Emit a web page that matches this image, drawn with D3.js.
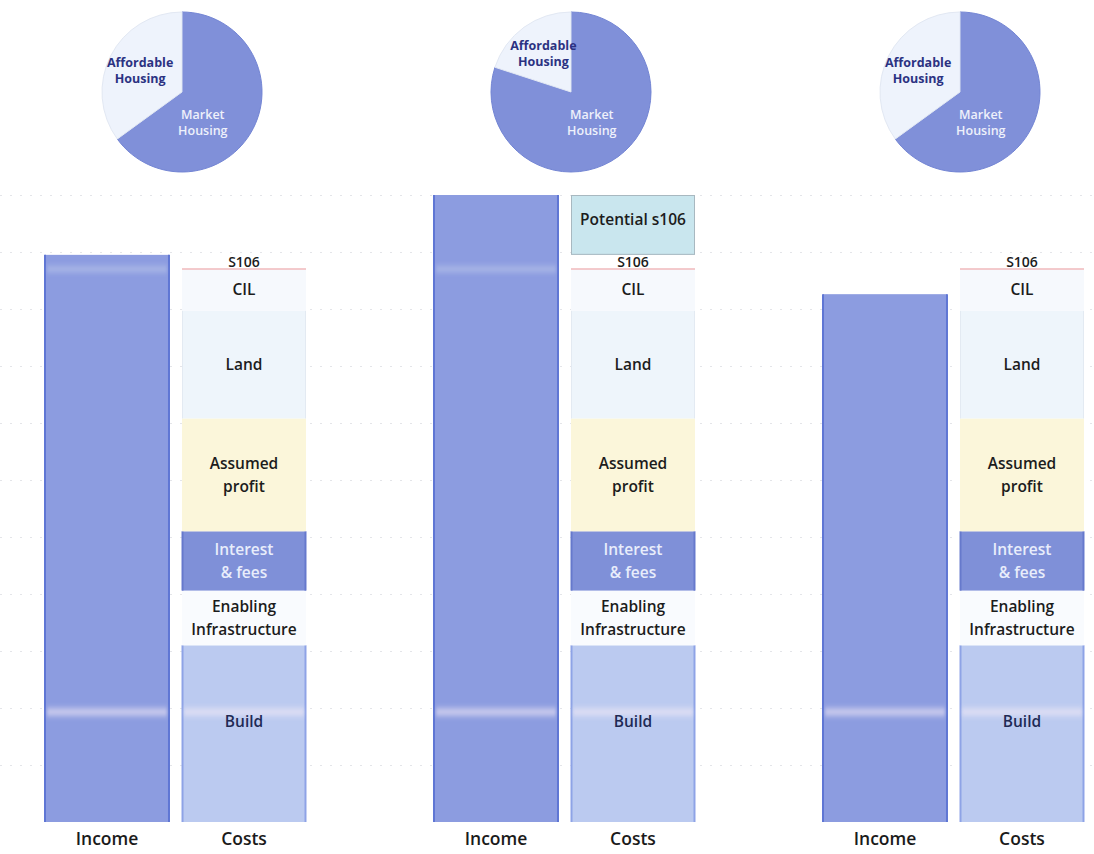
<!DOCTYPE html>
<html>
<head>
<meta charset="utf-8">
<script src="https://cdn.jsdelivr.net/npm/d3@7"></script>
<style>
  body { margin: 0; background: #fff; }
  text { font-family: "Open Sans", "Noto Sans", sans-serif; }
</style>
</head>
<body>
<div id="chart"></div>
<script>
// Chart values
const scenarios = ["Scenario 1", "Scenario 2", "Scenario 3"];
const pieCategories = ["Market Housing", "Affordable Housing"];
const marketShare = [65, 80, 65];
const affordableShare = [35, 20, 35];
const incomeValues = [99.5, 110, 92.6];
const costCategories = ["Build", "Enabling Infrastructure", "Interest & fees", "Assumed profit", "Land", "CIL", "S106", "Potential s106"];
const costLabels = [["Build"], ["Enabling", "Infrastructure"], ["Interest", "& fees"], ["Assumed", "profit"], ["Land"], ["CIL"], ["S106"], ["Potential s106"]];
const costValues = [
  [31, 9.6, 10.4, 19.8, 18.9, 7.3, 2.5, 0],
  [31, 9.6, 10.4, 19.8, 18.9, 7.3, 2.5, 10.5],
  [31, 9.6, 10.4, 19.8, 18.9, 7.3, 2.5, 0]
];
const barNames = ["Income", "Costs"];
const gridTicks = d3.range(10, 111, 10);

// styles per cost category
const costFill = {
  "Build": "#bbcaf0",
  "Enabling Infrastructure": "#f9fbfe",
  "Interest & fees": "#7f90d8",
  "Assumed profit": "#fbf6da",
  "Land": "#eef5fb",
  "CIL": "#f6f9fd",
  "S106": "#ffffff",
  "Potential s106": "#c9e6ee"
};
const costEdge = {
  "Build": "#8ea3e6",
  "Enabling Infrastructure": "none",
  "Interest & fees": "#6679cc",
  "Assumed profit": "none",
  "Land": "#e3eaf2",
  "CIL": "none",
  "S106": "none",
  "Potential s106": "#a8b8c0"
};
const costText = {
  "Interest & fees": "#e8edfb",
  "Build": "#1f2a55"
};

const width = 1094, height = 854;

const svg = d3.select("#chart").append("svg")
  .attr("width", width)
  .attr("height", height);

const defs = svg.append("defs");
defs.append("filter")
  .attr("id", "soft")
  .attr("x", "-10%").attr("y", "-200%")
  .attr("width", "120%").attr("height", "500%")
  .append("feGaussianBlur")
  .attr("stdDeviation", "1.5 3");

const yScale = d3.scaleLinear().domain([0, 110]).range([822, 195]);

const panelX = d3.scaleBand()
  .domain(scenarios)
  .range([45, 1083])
  .paddingInner(0.3316);

const barX = d3.scaleBand()
  .domain(barNames)
  .range([0, 261])
  .paddingInner(0.095);

// faint dotted gridlines
svg.append("g")
  .selectAll("line")
  .data(gridTicks)
  .enter()
  .append("line")
  .attr("x1", 0)
  .attr("x2", width)
  .attr("y1", d => yScale(d) + 0.5)
  .attr("y2", d => yScale(d) + 0.5)
  .attr("stroke", "#e4e5e9")
  .attr("stroke-width", 1)
  .attr("stroke-dasharray", "2,8");

const pie = d3.pie().sort(null).value(d => d.value);
const radius = 80;
const arc = d3.arc().innerRadius(0).outerRadius(radius);
const labelArc = d3.arc().innerRadius(47).outerRadius(47);

scenarios.forEach((s, i) => {
  const g = svg.append("g")
    .attr("transform", "translate(" + panelX(s) + ",0)");
  const barLayer = g.append("g");
  const sheenLayer = g.append("g");
  const textLayer = g.append("g");

  // pie on top
  const pieData = [
    { name: pieCategories[0], value: marketShare[i] },
    { name: pieCategories[1], value: affordableShare[i] }
  ];
  const pg = g.append("g")
    .attr("transform", "translate(" + (panelX.bandwidth() / 2 + 7) + ",92)");
  const arcs = pie(pieData);
  pg.selectAll("path")
    .data(arcs)
    .enter()
    .append("path")
    .attr("d", arc)
    .attr("fill", d => d.data.name === "Market Housing" ? "#8090d9" : "#eef3fc")
    .attr("stroke", d => d.data.name === "Market Housing" ? "#7385d4" : "#e2e8f3")
    .attr("stroke-width", 1);

  arcs.forEach(a => {
    const lines = a.data.name.split(" ");
    let cx, cy;
    if (a.data.name === "Affordable Housing") {
      [cx, cy] = labelArc.centroid(a);
    } else {
      cx = radius * 0.26;
      cy = radius * 0.39;
    }
    const t = pg.append("text")
      .attr("text-anchor", "middle")
      .attr("font-size", 12.5)
      .attr("font-weight", a.data.name === "Affordable Housing" ? 700 : 600)
      .attr("fill", a.data.name === "Affordable Housing" ? "#2b3282" : "#eef1fb");
    lines.forEach((ln, k) => {
      t.append("tspan")
        .attr("x", cx)
        .attr("y", cy + (k - (lines.length - 1) / 2) * 16 + 4)
        .text(ln);
    });
  });

  // income bar
  const ix = barX("Income");
  barLayer.append("rect")
    .attr("x", ix)
    .attr("y", yScale(incomeValues[i]))
    .attr("width", barX.bandwidth())
    .attr("height", yScale(0) - yScale(incomeValues[i]))
    .attr("fill", "#8c9ce0");
  [ix, ix + barX.bandwidth()].forEach(x => {
    barLayer.append("line")
      .attr("x1", x).attr("x2", x)
      .attr("y1", yScale(incomeValues[i]))
      .attr("y2", yScale(0))
      .attr("stroke", "#5f76d4")
      .attr("stroke-width", 2);
  });

  // stacked costs
  const cx = barX("Costs");
  let base = 0;
  costCategories.forEach((c, k) => {
    const v = costValues[i][k];
    if (!v) return;
    const y0 = yScale(base), y1 = yScale(base + v);
    base += v;
    barLayer.append("rect")
      .attr("x", cx)
      .attr("y", y1)
      .attr("width", barX.bandwidth())
      .attr("height", y0 - y1)
      .attr("fill", costFill[c]);
    if (costEdge[c] !== "none") {
      if (c === "Potential s106") {
        barLayer.append("rect")
          .attr("x", cx + 0.5).attr("y", y1 + 0.5)
          .attr("width", barX.bandwidth() - 1)
          .attr("height", y0 - y1 - 1)
          .attr("fill", "none")
          .attr("stroke", costEdge[c]);
      } else {
        [cx + 0.5, cx + barX.bandwidth() - 0.5].forEach(x => {
          barLayer.append("line")
            .attr("x1", x).attr("x2", x)
            .attr("y1", y1).attr("y2", y0)
            .attr("stroke", costEdge[c])
            .attr("stroke-width", c === "Build" || c === "Interest & fees" ? 2 : 1);
        });
      }
    }
    if (c === "S106") {
      barLayer.append("line")
        .attr("x1", cx).attr("x2", cx + barX.bandwidth())
        .attr("y1", y0).attr("y2", y0)
        .attr("stroke", "#f1b9bb")
        .attr("stroke-width", 1.5);
    }

    // label
    const lines = costLabels[k];
    let midY = (y0 + y1) / 2;
    if (c === "Build") midY = y1 + (y0 - y1) * 0.43;
    if (c === "Potential s106") midY -= 5;
    const t = textLayer.append("text")
      .attr("text-anchor", "middle")
      .attr("font-size", c === "S106" ? 14 : 15.5)
      .attr("font-weight", 600)
      .attr("fill", costText[c] || "#1c1c1c");
    lines.forEach((ln, j) => {
      t.append("tspan")
        .attr("x", cx + barX.bandwidth() / 2)
        .attr("y", midY + (j - (lines.length - 1) / 2) * 23 + 5.5)
        .text(ln);
    });
  });

  // light sheen bands seen on the print
  const sheen = yScale(19.3);
  [ix, cx].forEach(x => {
    sheenLayer.append("rect")
      .attr("x", x + 2)
      .attr("y", sheen - 3)
      .attr("width", barX.bandwidth() - 4)
      .attr("height", 6)
      .attr("fill", "#f6ecf6")
      .attr("opacity", 0.75)
      .attr("filter", "url(#soft)");
  });
  if (incomeValues[i] > 97) {
    sheenLayer.append("rect")
      .attr("x", ix + 2)
      .attr("y", yScale(97) - 1.5)
      .attr("width", barX.bandwidth() - 4)
      .attr("height", 3)
      .attr("fill", "#e3e9f3")
      .attr("opacity", 0.7)
      .attr("filter", "url(#soft)");
  }

  // bar names
  barNames.forEach(b => {
    textLayer.append("text")
      .attr("x", barX(b) + barX.bandwidth() / 2)
      .attr("y", 845)
      .attr("text-anchor", "middle")
      .attr("font-size", 17.5)
      .attr("font-weight", 600)
      .attr("fill", "#1a1a1a")
      .text(b);
  });
});
</script>
</body>
</html>
